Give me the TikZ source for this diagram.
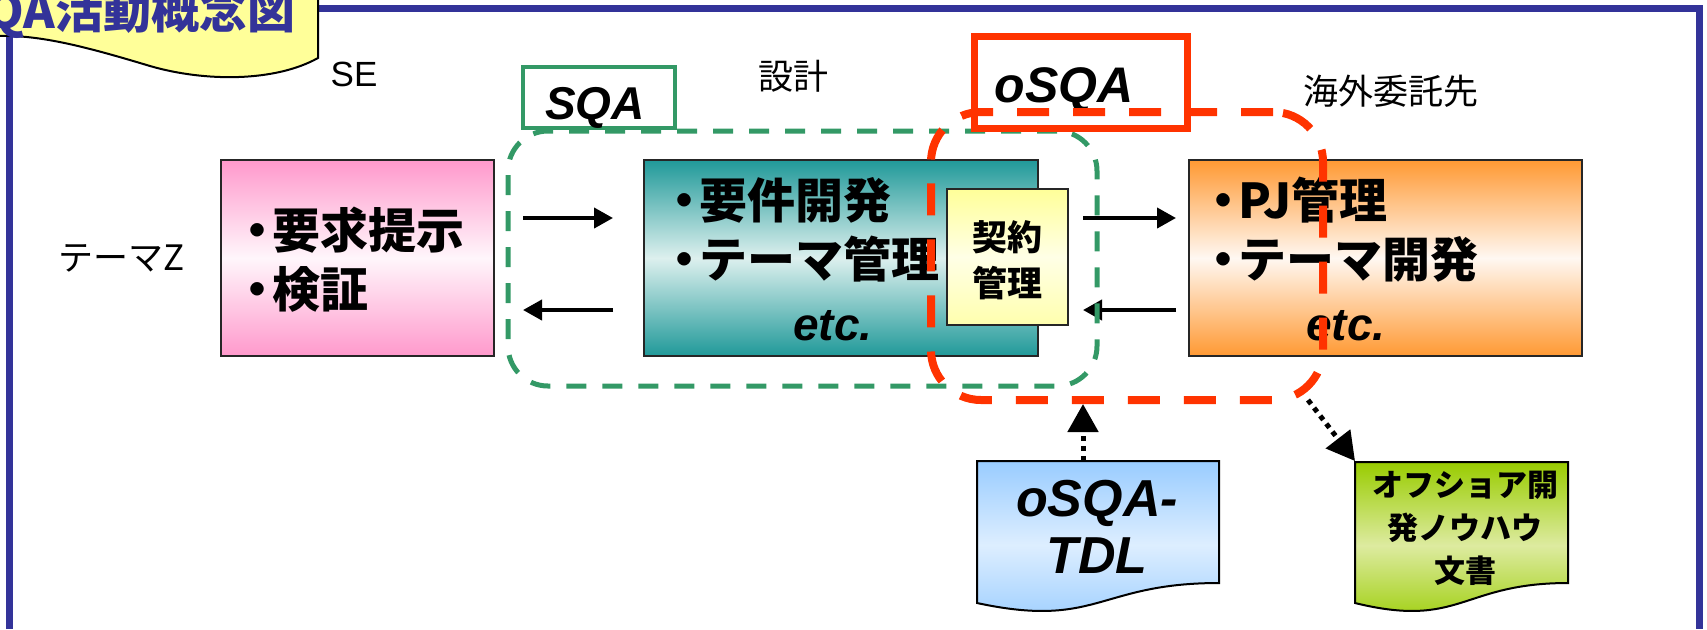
\documentclass[tikz,border=0pt]{standalone}
\usepackage{fontspec}
\setmainfont{Liberation Sans}
\newfontfamily\jp{Noto Sans CJK JP}
\newfontfamily\jpheavy{Noto Sans CJK JP Black}
\newfontfamily\lat{Liberation Sans}
\usetikzlibrary{arrows.meta,calc}

\definecolor{frameblue}{HTML}{333399}
\definecolor{bannery}{HTML}{FFFF99}
\definecolor{pinkc}{HTML}{FF99CC}
\definecolor{pinkmid}{HTML}{FFF6FB}
\definecolor{tealc}{HTML}{209999}
\definecolor{tealmid}{HTML}{DDF0EE}
\definecolor{orangec}{HTML}{FF9933}
\definecolor{orangemid}{HTML}{FFF8F2}
\definecolor{yelc}{HTML}{FFFF99}
\definecolor{yelmid}{HTML}{FFFFE6}
\definecolor{bluedoc}{HTML}{99CCFF}
\definecolor{bluemid}{HTML}{DDEEFF}
\definecolor{greendoc}{HTML}{99CC00}
\definecolor{greenmid}{HTML}{DDEBA0}
\definecolor{sqagreen}{HTML}{339966}
\definecolor{osqared}{HTML}{FF3300}

% bullet narrower than a full em
\newcommand\bul{\makebox[0.6em][c]{・}}

\tikzset{
  procbox/.style={draw=black!85, line width=1pt, inner sep=0pt, outer sep=0pt},
  plainlabel/.style={inner sep=0pt, font=\jp\fontsize{17.5}{20}\selectfont},
  bigjp/.style={inner sep=0pt, align=left, font=\jpheavy\fontsize{24}{29.5}\selectfont},
  bigetc/.style={inner sep=0pt, font=\lat\bfseries\itshape\fontsize{23}{26}\selectfont},
  flow/.style={line width=2pt, -{Triangle[length=9.5pt,width=10pt]}},
  dotflow/.style={line width=2.5pt, dash pattern=on 2.5pt off 2.5pt,
                  -{Triangle[length=14pt,width=15pt]}},
}

\begin{document}
\begin{tikzpicture}[x=0.5pt,y=-0.5pt]
\useasboundingbox (0,0) rectangle (1707,629);

% outer frame
\draw[frameblue, line width=3.5pt] (9.5,629) -- (9.5,8.5) -- (1699,8.5) -- (1699,629);

% title banner
\filldraw[fill=bannery, draw=black, line width=1pt]
  (-5,-5) -- (318,-5) -- (318,58)
  .. controls (275,82) and (205,82) .. (150,66)
  .. controls (90,48) and (40,34) .. (-5,36) -- cycle;
\node[anchor=base east, inner sep=0pt, text=frameblue,
      font=\jpheavy\fontsize{24}{28}\selectfont] (title) at (296,28) {QA活動概念図};

% column labels
\node[inner sep=0pt, font=\lat\fontsize{17.5}{20}\selectfont] (se) at (354,74) {SE};
\node[plainlabel] (sekkei) at (793,76) {設計};
\node[plainlabel] (kaigai) at (1391,91) {海外委託先};
\node[plainlabel] (themez) at (122,258) {テーマZ};

% main boxes
\node[procbox, top color=pinkc, bottom color=pinkc, middle color=pinkmid,
      minimum width=136.5pt, minimum height=98pt] (pink) at (357.5,258) {};
\node[procbox, top color=tealc, bottom color=tealc, middle color=tealmid,
      minimum width=197pt, minimum height=98pt] (teal) at (841,258) {};
\node[procbox, top color=orangec, bottom color=orangec, middle color=orangemid,
      minimum width=196.5pt, minimum height=98pt] (orange) at (1385.5,258) {};
\node[procbox, top color=yelc, bottom color=yelc!80!white, middle color=yelmid,
      minimum width=60.5pt, minimum height=68pt] (keiyaku) at (1007.5,257) {};

% box texts
\node[bigjp, anchor=west] (pinktxt) at (243,260) {\bul 要求提示\\\bul 検証};
\node[bigjp, anchor=west] (tealtxt) at (670,230) {\bul 要件開発\\\bul テーマ管理};
\node[bigetc, anchor=base west] (tealetc) at (793,340) {etc.};
\node[bigjp, anchor=west] (orangetxt) at (1209,230) {\bul PJ管理\\\bul テーマ開発};
\node[bigetc, anchor=base west] (orangeetc) at (1306,340) {etc.};
\node[inner sep=0pt, align=center, font=\jpheavy\fontsize{17.5}{23}\selectfont]
  (keiyakutxt) at (1007.5,260) {契約\\管理};

% arrows between the boxes
\draw[flow] ($(pink.east)+(29,-40)$) -- ($(teal.west)+(-31,-40)$);
\draw[flow] ($(teal.west)+(-31,52)$) -- ($(pink.east)+(29,52)$);
\draw[flow] ($(teal.east)+(45,-40)$) -- ($(orange.west)+(-13,-40)$);
\draw[flow] ($(orange.west)+(-13,52)$) -- ($(teal.east)+(45,52)$);

% SQA area
\node[draw=sqagreen, line width=2.5pt, dash pattern=on 10pt off 8pt,
      rounded corners=20pt, inner sep=0pt, minimum width=294.5pt,
      minimum height=127.5pt] (sqaarea) at (802.5,258.5) {};
\node[draw=sqagreen, line width=2.2pt, inner sep=0pt,
      minimum width=76pt, minimum height=30.5pt] (sqabox) at (599,97.5) {};
\node[inner sep=0pt, font=\lat\bfseries\itshape\fontsize{23}{26}\selectfont]
  (sqatxt) at (595,108) {SQA};

% oSQA area
\node[draw=osqared, line width=3.5pt, inner sep=0pt,
      minimum width=106.5pt, minimum height=46pt] (osqabox) at (1080.5,82) {};
\node[inner sep=0pt, font=\lat\bfseries\itshape\fontsize{25}{27}\selectfont]
  (osqatxt) at (1064,90) {oSQA};
\node[draw=osqared, line width=4pt, dash pattern=on 16pt off 12pt,
      rounded corners=25pt, inner sep=0pt, minimum width=196pt,
      minimum height=144pt] (osqaarea) at (1127,256) {};

% oSQA-TDL document
\filldraw[draw=black, line width=1pt, top color=bluedoc, bottom color=bluedoc, middle color=bluemid]
  (977,461) -- (1219,461) -- (1219,583)
  .. controls (1098,583) and (1098,629) .. (977,603) -- cycle;
\node[inner sep=0pt, align=center, font=\lat\bfseries\itshape\fontsize{26}{28.5}\selectfont]
  (tdltxt) at (1097,527) {oSQA-\\TDL};

% know-how document
\filldraw[draw=black, line width=1pt, top color=greendoc, bottom color=greendoc, middle color=greenmid]
  (1355,462) -- (1568,462) -- (1568,583)
  .. controls (1461,583) and (1461,629) .. (1355,603) -- cycle;
\node[inner sep=0pt, align=center, font=\jpheavy\fontsize{15.5}{21.5}\selectfont]
  (knowtxt) at (1465,528) {オフショア開\\発ノウハウ\\文書};

% dotted links to the documents
\coordinate (tdltop) at (1083,461);
\coordinate (knowcorner) at (1355,461);
\coordinate (knowstart) at (1308,400);
\draw[dotflow] (tdltop) -- (tdltop |- osqaarea.south);
\draw[dotflow] (knowstart) -- (knowcorner);
\end{tikzpicture}
\end{document}
